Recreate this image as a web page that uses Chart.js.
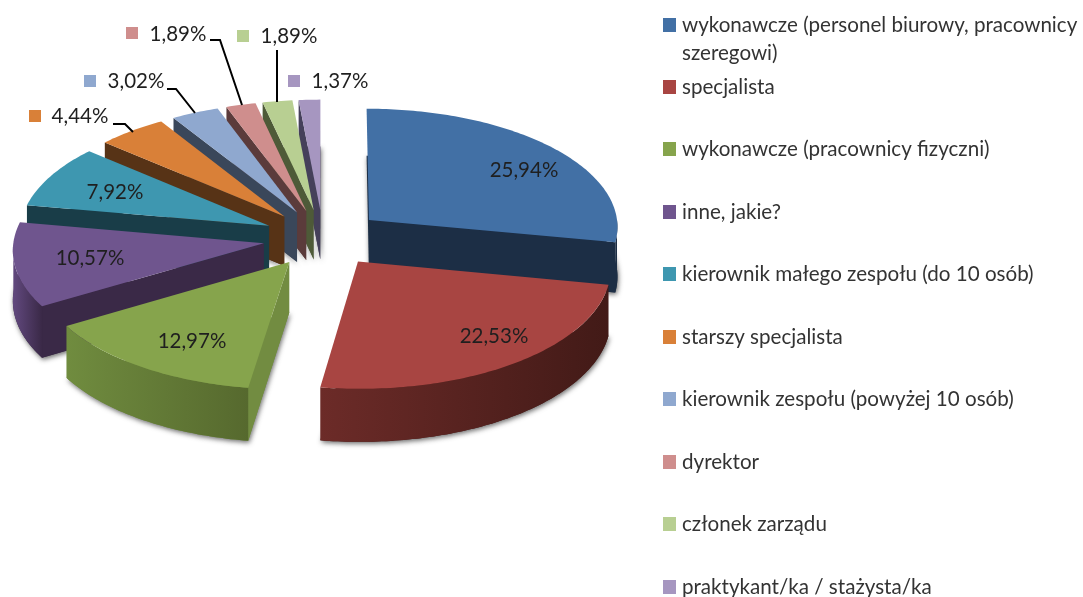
<!DOCTYPE html>
<html><head><meta charset="utf-8">
<style>html,body{margin:0;padding:0;background:#fff;overflow:hidden}canvas{display:block}</style>
<script src="https://cdn.jsdelivr.net/npm/chart.js@4"></script>
</head><body><canvas id="c" width="1083" height="597"></canvas>
<script>
const categories = ["wykonawcze (personel biurowy, pracownicy szeregowi)","specjalista","wykonawcze (pracownicy fizyczni)","inne, jakie?","kierownik małego zespołu (do 10 osób)","starszy specjalista","kierownik zespołu (powyżej 10 osób)","dyrektor","członek zarządu","praktykant/ka / stażysta/ka"];
const values = [25.94,22.53,12.97,10.57,7.92,4.44,3.02,1.89,1.89,1.37];
const topColors = ["#4270a5","#a84542","#86a44c","#6f558e","#3e97b0","#d98038","#8fa8cf","#cf8e8d","#b8cf92","#a696c0"];
const faceColors = ["#1c2e45","#431b18","#728c41","#3a2947","#193d48","#573316","#3a475a","#5b3b3b","#4e5a38","#45405a"];
const rimLeft = ["#1c2e45","#6c2b28","#708c3f","#62497f","#193d48","#573316","#3a475a","#5b3b3b","#4e5a38","#45405a"];
const rimRight = ["#1c2e45","#421a17","#56692e","#3a2947","#193d48","#573316","#3a475a","#5b3b3b","#4e5a38","#45405a"];
const legendLines = [["wykonawcze (personel biurowy, pracownicy","szeregowi)"],["specjalista"],["wykonawcze (pracownicy fizyczni)"],["inne, jakie?"],["kierownik małego zespołu (do 10 osób)"],["starszy specjalista"],["kierownik zespołu (powyżej 10 osób)"],["dyrektor"],["członek zarządu"],["praktykant/ka / stażysta/ka"]];
const legendRows = [25,87,149,212,274,337,399,462,524,587];
const labelSpots = [[524,170],[494,336],[192,341],[90,258],[115,192],[80,116],[136,81],[178,34],[289,36],[340,81]];
const keySpots = [null,null,null,null,null,[35,116],[90,81],[132,33],[243,36],[294,81]];
const leaders = [null,null,null,null,null,[[113,124],[125,124],[133,132]],[[167,89],[176,89],[195,113]],[[210,40],[220,40],[242,105]],[[277,50],[277,102]],null];

const VIEW = {cx:323, cy:238, ys:0.476, k:0.05, depth:50, explode:60};
const TEXT = '#1f1f1f', FONT = '20.5px Lato';

function projector(arc, mid){
  const R = arc.outerRadius;
  const ox = Math.cos(mid)*VIEW.explode, oy = Math.sin(mid)*VIEW.explode;
  return (t, rr, down) => {
    const X = ox + Math.cos(t)*rr, Y = oy + Math.sin(t)*rr;
    const s = 1 + VIEW.k*Y/R;
    return [VIEW.cx + X*s, VIEW.cy + Y*VIEW.ys*s + (down?VIEW.depth*s:0)];
  };
}
function poly(ctx, pts){ctx.beginPath();pts.forEach((p,i)=>i?ctx.lineTo(p[0],p[1]):ctx.moveTo(p[0],p[1]));ctx.closePath();}
function arcPts(P,a,b,R,down){const n=Math.max(4,Math.ceil((b-a)*60)),o=[];for(let i=0;i<=n;i++)o.push(P(a+(b-a)*i/n,R,down));return o;}

const pie3d = {
  id:'pie3d',
  beforeDatasetDraw(chart,args){
    const ctx = chart.ctx;
    const slices = chart.getDatasetMeta(0).data.map((el,i)=>{
      const p = el.getProps(['startAngle','endAngle','outerRadius'],true);
      const mid=(p.startAngle+p.endAngle)/2;
      return {i,a:p.startAngle,b:p.endAngle,R:p.outerRadius,mid,P:projector(p,mid)};
    }).sort((u,v)=>Math.sin(u.mid)-Math.sin(v.mid));
    ctx.save();
    ctx.shadowColor='rgba(60,60,60,0.75)';ctx.shadowBlur=5;ctx.shadowOffsetX=1;ctx.shadowOffsetY=2;
    slices.forEach(s=>{
      const P=s.P;
      ctx.fillStyle=faceColors[s.i];
      poly(ctx,[P(0,0,true),...arcPts(P,s.a,s.b,s.R,true)]);ctx.fill();
    });
    ctx.restore();
    slices.forEach(s=>{
      const P=s.P,R=s.R,i=s.i;
      ctx.fillStyle=faceColors[i];
      if(-Math.cos(s.a)>0){poly(ctx,[P(0,0),P(s.a,R),P(s.a,R,true),P(0,0,true)]);ctx.fill();}
      if(Math.cos(s.b)>0){poly(ctx,[P(0,0),P(s.b,R),P(s.b,R,true),P(0,0,true)]);ctx.fill();}
      const lo=Math.max(s.a,0),hi=Math.min(s.b,Math.PI);
      if(hi>lo){
        const up=arcPts(P,lo,hi,R,false),dn=arcPts(P,lo,hi,R,true).reverse();
        const xs=up.map(p=>p[0]),x0=Math.min(...xs),x1=Math.max(...xs);
        const g=ctx.createLinearGradient(x0,0,x1,0);
        g.addColorStop(0,rimLeft[i]);g.addColorStop(1,rimRight[i]);
        ctx.fillStyle=g;poly(ctx,[...up,...dn]);ctx.fill();
      }
      ctx.fillStyle=topColors[i];
      poly(ctx,[P(0,0),...arcPts(P,s.a,s.b,R,false)]);ctx.fill();
    });
    return false;
  },
  afterDraw(chart){
    const ctx=chart.ctx;
    ctx.save();
    ctx.font=FONT;ctx.textBaseline='middle';ctx.textAlign='center';
    values.forEach((v,i)=>{
      if(leaders[i]){
        ctx.strokeStyle='#000';ctx.lineWidth=2;ctx.beginPath();
        leaders[i].forEach((p,j)=>j?ctx.lineTo(p[0],p[1]):ctx.moveTo(p[0],p[1]));ctx.stroke();
      }
      if(keySpots[i]){ctx.fillStyle=topColors[i];ctx.fillRect(keySpots[i][0]-6,keySpots[i][1]-6,12,12);}
      ctx.fillStyle=TEXT;
      ctx.fillText(v.toFixed(2).replace('.',',')+'%',labelSpots[i][0],labelSpots[i][1]);
    });
    ctx.textAlign='left';
    ctx.font='20.6px Lato';
    legendLines.forEach((lines,i)=>{
      const y=legendRows[i];
      ctx.fillStyle=topColors[i];ctx.fillRect(663,y-7,13,14);
      ctx.fillStyle='#333';
      lines.forEach((t,j)=>ctx.fillText(t,682,y+j*28));
    });
    ctx.restore();
  }
};

new Chart(document.getElementById('c'),{
  type:'pie',
  data:{labels:categories,datasets:[{data:values,backgroundColor:topColors,borderWidth:0,offset:VIEW.explode,hoverOffset:0}]},
  options:{
    responsive:false,animation:false,
    layout:{padding:{top:16,bottom:21,left:0,right:433}},
    plugins:{legend:{display:false},tooltip:{enabled:false}}
  },
  plugins:[pie3d]
});
</script>
</body></html>
